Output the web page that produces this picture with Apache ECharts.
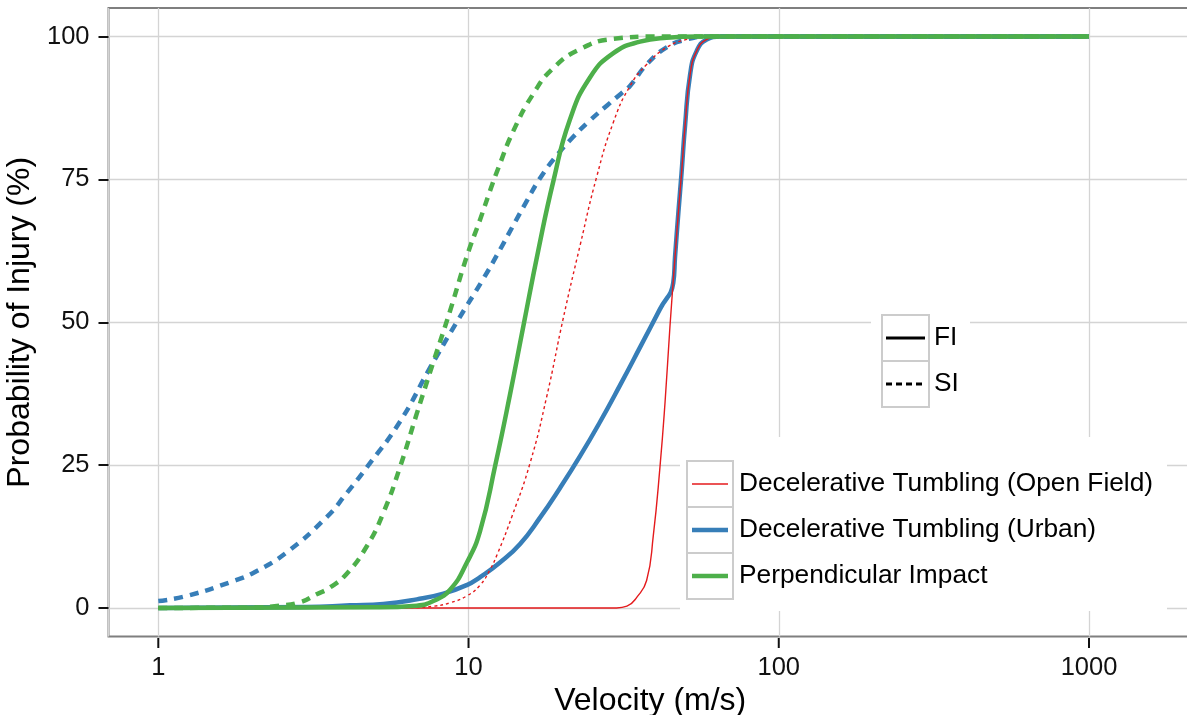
<!DOCTYPE html>
<html>
<head>
<meta charset="utf-8">
<script src="https://cdn.jsdelivr.net/npm/echarts@6/dist/echarts.min.js"></script>
<style>
html,body{margin:0;padding:0;background:#fff;}
#chart{width:1187px;height:715px;}
</style>
</head>
<body>
<div id="chart"></div>
<script>
// ---- data (velocity m/s, probability %) ----
const velOpenFI = [1, 30, 32.4, 34.9, 37.5, 39.4, 41.4, 43.0, 44.6, 46.3, 47.5, 48.6, 49.9, 51.8, 54.4, 58.6, 64.7, 1000];
const probOpenFI = [0, 0, 0.3, 1.9, 4.8, 12.6, 24.6, 36.0, 49.3, 61.4, 69.4, 76.1, 84.5, 93.4, 97.5, 99.5, 100, 100];

const velOpenSI = [1, 6.5, 7.7, 8.72, 9.87, 10.9, 11.73, 12.4, 13.8, 15.8, 17.87, 20.2, 22.9, 25.9, 29.3, 33.2, 37.5, 43.5, 50.5, 58.6, 1000];
const probOpenSI = [0, 0.05, 0.3, 0.9, 2.1, 4.0, 6.7, 9.5, 16.0, 25.4, 37.0, 50.7, 63.5, 75.5, 85.0, 91.4, 95.1, 98.1, 99.5, 100, 100];

const velUrbanFI = [1, 3, 4.15, 5.31, 6.81, 8.3, 9.87, 10.9, 12.6, 14.66, 17.0, 19.72, 22.9, 26.5, 30.8, 35.7, 41.4, 45.7, 46.3, 47.5, 48.6, 49.9, 51.8, 54.4, 58.6, 64.7, 1000];
const probUrbanFI = [0, 0.15, 0.45, 0.7, 1.5, 2.5, 4.0, 5.4, 7.9, 11.2, 15.8, 21.0, 26.6, 32.5, 39.0, 45.6, 52.3, 56.9, 61.4, 69.4, 76.1, 84.5, 93.4, 97.5, 99.5, 100, 100];

const velUrbanSI = [1, 1.235, 1.745, 2.05, 2.59, 3.49, 4.05, 4.70, 6.01, 7.51, 9.16, 11.16, 12.6, 13.95, 15.4, 17.0, 19.25, 21.8, 24.6, 27.9, 31.0, 33.2, 37.5, 43.5, 50.5, 58.6, 1000];
const probUrbanSI = [1.2, 2.1, 4.7, 6.3, 9.7, 15.9, 20.1, 24.6, 32.6, 42.0, 50.0, 57.6, 62.6, 67.0, 71.2, 75.2, 79.2, 82.5, 85.3, 87.9, 90.0, 91.4, 95.1, 98.1, 99.5, 100, 100];

const velPerpFI = [1, 5, 6.81, 7.70, 8.72, 9.87, 10.9, 12.2, 13.6, 15.02, 16.8, 18.77, 21.2, 24.6, 29.3, 35.7, 43.5, 55, 1000];
const probPerpFI = [0, 0.1, 0.4, 1.2, 3.2, 7.9, 13.5, 25.0, 37.3, 49.3, 62.7, 74.7, 85.4, 92.8, 97.1, 99.1, 99.8, 100, 100];

const velPerpSI = [1, 2, 2.47, 2.86, 3.24, 3.58, 4.05, 4.70, 5.31, 6.01, 6.81, 7.70, 8.72, 9.87, 10.9, 11.73, 12.48, 13.95, 16.18, 18.77, 22.9, 29.3, 40, 1000];
const probPerpSI = [0, 0.05, 0.4, 1.0, 2.4, 3.6, 6.0, 10.8, 16.6, 24.6, 34.0, 43.0, 52.0, 61.5, 68.0, 73.0, 77.0, 83.5, 90.0, 94.5, 97.8, 99.6, 100, 100];

const xTicks = [1, 10, 100, 1000];
const yTicks = [0, 25, 50, 75, 100];
const colourNames = ['Decelerative Tumbling (Open Field)', 'Decelerative Tumbling (Urban)', 'Perpendicular Impact'];
const typeNames = ['FI', 'SI'];
const xTitle = 'Velocity (m/s)';
const yTitle = 'Probability of Injury (%)';

// ---- styling ----
const RED = '#E41A1C', BLUE = '#377EB8', GREEN = '#4DAF4A';
const FONT = '"Liberation Sans", Arial, Helvetica, sans-serif';
const X_MIN = 0.691, X_MAX = 2148, Y_MIN = -5, Y_MAX = 105;
const pairs = (v, p) => v.map((x, i) => [x, p[i]]);

function lineSeries(name, v, p, color, width, dash, z) {
  return {
    name: name, type: 'line', data: pairs(v, p),
    showSymbol: false, symbol: 'none', smooth: 0.5,
    lineStyle: { color: color, width: width, type: dash || 'solid', cap: 'butt', join: 'round' },
    z: z, silent: true, animation: false
  };
}

const chart = echarts.init(document.getElementById('chart'), null, { renderer: 'canvas' });

const keyX = 687, keyW = 46, keyH = 46;
const graphics = [];
// colour legend
graphics.push({ type: 'rect', shape: { x: 680, y: 437, width: 487, height: 174 }, style: { fill: '#fff' }, z: 100 });
const keyColors = [RED, BLUE, GREEN], keyWidths = [1.4, 4.5, 4.5];
colourNames.forEach((nm, i) => {
  const y0 = 461 + i * keyH;
  graphics.push({ type: 'rect', shape: { x: keyX, y: y0, width: keyW, height: keyH }, style: { fill: '#fff', stroke: '#cccccc', lineWidth: 2 }, z: 101 });
  graphics.push({ type: 'line', shape: { x1: keyX + 5, y1: y0 + keyH / 2, x2: keyX + keyW - 5, y2: y0 + keyH / 2 }, style: { stroke: keyColors[i], lineWidth: keyWidths[i] }, z: 102 });
  graphics.push({ type: 'text', style: { x: 739, y: y0 + keyH / 2, text: nm, font: '26.3px ' + FONT, fill: '#000', textVerticalAlign: 'middle', verticalAlign: 'middle' }, z: 102 });
});
// linetype legend
graphics.push({ type: 'rect', shape: { x: 871, y: 296, width: 99, height: 124 }, style: { fill: '#fff' }, z: 100 });
typeNames.forEach((nm, i) => {
  const y0 = 315 + i * keyH;
  graphics.push({ type: 'rect', shape: { x: 882, y: y0, width: 47, height: keyH }, style: { fill: '#fff', stroke: '#cccccc', lineWidth: 2 }, z: 101 });
  graphics.push({ type: 'line', shape: { x1: 886, y1: y0 + keyH / 2, x2: 925, y2: y0 + keyH / 2 }, style: { stroke: '#000', lineWidth: 3, lineDash: i === 1 ? [6, 4] : null }, z: 102 });
  graphics.push({ type: 'text', style: { x: 934, y: y0 + keyH / 2, text: nm, font: '26.3px ' + FONT, fill: '#000', textVerticalAlign: 'middle', verticalAlign: 'middle' }, z: 102 });
});

const option = {
  animation: false,
  backgroundColor: '#fff',
  textStyle: { fontFamily: FONT },
  grid: { left: 108.5, top: 8, right: -5, bottom: 78.5, show: true, borderColor: '#7f7f7f', borderWidth: 2, backgroundColor: 'transparent', containLabel: false, outerBoundsMode: 'none' },
  xAxis: {
    type: 'log', logBase: 10, min: X_MIN, max: X_MAX, position: 'bottom',
    name: xTitle, nameLocation: 'middle', nameGap: 37.5,
    nameTextStyle: { fontSize: 32, color: '#000', fontFamily: FONT },
    axisLine: { show: false, onZero: false },
    axisTick: { show: false },
    axisLabel: { fontSize: 25.5, color: '#111', margin: 18, fontFamily: FONT, customValues: xTicks, formatter: v => String(Math.round(v)) },
    splitLine: { show: true, lineStyle: { color: '#d4d4d4', width: 1.3 } },
    minorSplitLine: { show: false }
  },
  yAxis: {
    type: 'value', min: Y_MIN, max: Y_MAX,
    name: yTitle, nameLocation: 'middle', nameGap: 60,
    nameTextStyle: { fontSize: 32, color: '#000', fontFamily: FONT },
    axisLine: { show: false, onZero: false },
    axisTick: { show: true, length: 10, lineStyle: { color: '#111', width: 2 }, customValues: yTicks },
    axisLabel: { fontSize: 25.5, color: '#111', margin: 19, fontFamily: FONT, customValues: yTicks },
    splitLine: { show: true, lineStyle: { color: '#d4d4d4', width: 1.3 } }
  },
  series: [
    lineSeries('Urban SI', velUrbanSI, probUrbanSI, BLUE, 4.5, [9, 7], 2),
    lineSeries('Urban FI', velUrbanFI, probUrbanFI, BLUE, 4.5, 'solid', 2),
    lineSeries('Open SI', velOpenSI, probOpenSI, RED, 1.4, [3, 3], 3),
    lineSeries('Open FI', velOpenFI, probOpenFI, RED, 1.4, 'solid', 3),
    lineSeries('Perp SI', velPerpSI, probPerpSI, GREEN, 4.5, [9, 7], 4),
    lineSeries('Perp FI', velPerpFI, probPerpFI, GREEN, 4.5, 'solid', 4),
    {
      // x-axis tick marks: placed by the axes at each tick value on the bottom edge, drawn just outside
      name: 'xTickMarks', type: 'scatter', data: xTicks.map(v => [v, Y_MIN]),
      symbol: 'rect', symbolSize: [2, 10], symbolOffset: [0, 6.5],
      itemStyle: { color: '#111', opacity: 1 }, clip: false, silent: true, z: 20, animation: false
    }
  ],
  graphic: graphics
};
chart.setOption(option);
</script>
</body>
</html>
